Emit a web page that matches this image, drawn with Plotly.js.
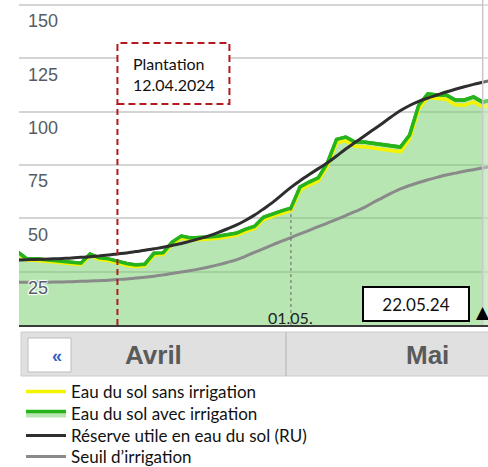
<!DOCTYPE html>
<html><head><meta charset="utf-8">
<script src="https://cdn.plot.ly/plotly-3.0.1.min.js"></script>
<style>html,body{margin:0;padding:0;background:#fff;}#chart{width:488px;height:467px;}</style>
</head><body><div id="chart"></div>
<script>
// ---- data (daily, starting 2024-04-01) ----
const startYear = 2024, startMonthIndex = 3, startDay = 1;
const greenWith = [34.5,31.2,31.0,30.6,30.3,30.0,29.6,29.0,33.3,31.5,
  31.0,29.8,28.8,28.1,28.5,33.6,33.8,38.9,41.7,40.8,
  40.8,41.2,41.6,42.2,43.0,44.8,46.2,50.5,52.2,53.5,
  54.8,64.7,67.0,69.0,76.0,87.0,88.1,85.8,85.8,85.3,
  84.4,84.0,83.4,89.0,103.0,108.3,107.8,107.8,105.5,105.5,
  106.9,104.5,105.5];
const yellowWithout = [33.8,30.5,30.3,29.9,29.6,29.3,28.9,28.3,32.6,30.8,
  30.2,29.0,28.0,27.3,27.7,32.8,33.0,38.0,40.8,39.9,
  39.9,40.3,40.7,41.2,42.0,43.8,45.2,49.4,51.1,52.4,
  53.6,63.3,65.6,67.6,74.6,85.4,86.4,83.8,83.6,83.0,
  82.2,81.8,81.2,87.2,101.3,106.6,106.0,105.8,103.2,103.0,
  104.6,102.2,103.2];
const ruCurve = [30.5,30.6,30.7,30.85,31.0,31.2,31.4,31.7,32.0,32.4,
  32.8,33.3,33.8,34.4,35.0,35.7,36.4,37.3,38.2,39.3,
  40.5,41.8,43.3,45.0,46.8,49.0,51.5,54.4,57.5,61.0,
  64.5,67.6,70.5,73.3,76.0,79.2,82.5,85.5,88.5,91.5,
  94.5,97.6,100.5,102.9,104.8,106.4,107.8,109.2,110.5,111.7,
  112.8,113.8,114.8];
const seuil = [20.0,20.0,20.0,20.05,20.1,20.2,20.3,20.45,20.6,20.8,
  21.0,21.3,21.6,22.0,22.4,22.9,23.5,24.1,24.8,25.5,
  26.3,27.2,28.2,29.3,30.5,32.2,34.0,35.8,37.6,39.3,
  41.0,42.7,44.4,46.1,47.8,49.5,51.3,53.1,55.0,57.4,
  59.6,61.8,63.8,65.4,66.8,68.1,69.2,70.3,71.2,72.1,
  72.8,73.6,74.3];
const yTickVals = [25,50,75,100,125,150];
const yTickText = ['25','50','75','100','125','150'];
const legendNames = ['Eau du sol sans irrigation','Eau du sol avec irrigation','Réserve utile en eau du sol (RU)','Seuil d’irrigation'];
const plantationDate = '2024-04-12';
const plantationText = 'Plantation<br>12.04.2024';
const markDate = '2024-05-01';
const markLabel = '01.05.';
const todayDate = '2024-05-22';
const todayLabel = '22.05.24';
const monthLabels = ['Avril','Mai'];
const monthCenters = ['2024-04-16','2024-05-16'];
const xRange = ['2024-04-01 05:15','2024-05-22 14:00'];
const yRange = [0,152.34];

function dayStr(i){const d=new Date(Date.UTC(startYear,startMonthIndex,startDay+i));return d.toISOString().slice(0,10);}
const dates = greenWith.map((_,i)=>dayStr(i));
const markIdx = dates.indexOf(markDate);

// pixel helpers for layout placement (plot area: x 19..488, y 0..325)
const PL=19, PW=469, PH=325;
const pxX = X => (X-PL)/PW;
const pxY = Y => (PH-Y)/PH;

const GREEN='#27b31b', YELLOW='#f4f400', BLACK='#2e2e2e', GRAY='#8a8a8a';
const legFont={family:'Lato, Carlito, sans-serif', size:17, color:'#111'};

const traces=[
 {x:dates,y:greenWith,type:'scatter',mode:'lines',name:legendNames[1],fill:'tozeroy',
  fillcolor:'rgba(111,205,101,0.5)',line:{color:GREEN,width:3.5},legend:'legend2',hoverinfo:'skip'},
 {x:dates,y:yellowWithout,type:'scatter',mode:'lines',name:legendNames[0],
  line:{color:YELLOW,width:3.5},legend:'legend',hoverinfo:'skip'},
 {x:dates,y:greenWith,type:'scatter',mode:'lines',showlegend:false,
  line:{color:GREEN,width:3.5},hoverinfo:'skip'},
 {x:dates,y:seuil,type:'scatter',mode:'lines',name:legendNames[3],
  line:{color:GRAY,width:3,shape:'spline'},legend:'legend4',hoverinfo:'skip'},
 {x:dates,y:ruCurve,type:'scatter',mode:'lines',name:legendNames[2],
  line:{color:BLACK,width:3,shape:'spline'},legend:'legend3',hoverinfo:'skip'}
];

function leg(Y){return {x:pxX(21),xanchor:'left',y:pxY(Y),yanchor:'middle',font:legFont,
  bgcolor:'rgba(0,0,0,0)',borderwidth:0,itemwidth:40,valign:'middle'};}

const red='#b3191e';
const layout={
 width:488,height:467,margin:{l:PL,r:0,t:0,b:467-PH,autoexpand:false},
 paper_bgcolor:'#fff',plot_bgcolor:'#fff',showlegend:true,
 xaxis:{type:'date',range:xRange,showgrid:false,showticklabels:false,ticks:'',
   showline:true,linecolor:'#3a3a3a',linewidth:2,zeroline:false,fixedrange:true},
 yaxis:{range:yRange,tickvals:yTickVals,ticktext:yTickText,showgrid:true,gridcolor:'#d4d4d4',gridwidth:2,
   zeroline:false,showline:false,ticks:'',ticklabelposition:'inside',ticklabelshift:16,ticklabelstandoff:6,
   tickfont:{family:'Liberation Sans, Arial, sans-serif',size:18,color:'#555c64',
     shadow:'1px 1px 1px #fff, -1px -1px 1px #fff, 1px -1px 1px #fff, -1px 1px 1px #fff'},fixedrange:true},
 legend:leg(392),legend2:leg(414),legend3:leg(436),legend4:leg(457),
 shapes:[
  {type:'rect',xref:'x',yref:'paper',x0:todayDate,x1:'2024-05-24',y0:0,y1:1,fillcolor:'rgba(255,255,255,0.3)',line:{width:0},layer:'above'},
  {type:'line',xref:'x',yref:'paper',x0:todayDate,x1:todayDate,y0:0,y1:1,line:{color:'#c8c8c8',width:1.5}},
  {type:'line',xref:'x',yref:'y',x0:markDate,x1:markDate,y0:0,y1:greenWith[markIdx],line:{color:'#666',width:1,dash:'dot'},layer:'above'},
  {type:'line',xref:'x',yref:'paper',x0:plantationDate,x1:plantationDate,y0:0,y1:pxY(104),line:{color:red,width:2,dash:'6px,4px'},layer:'above'},
  {type:'rect',xref:'x',xsizemode:'pixel',xanchor:plantationDate,x0:0,x1:112,yref:'paper',y0:pxY(104),y1:pxY(43),
    fillcolor:'#fff',line:{color:red,width:2,dash:'7px,4px'},layer:'above'},
  {type:'rect',xref:'paper',yref:'paper',x0:pxX(21),x1:1.05,y0:pxY(376),y1:pxY(332),fillcolor:'#e0e0e0',line:{color:'#cccccc',width:1}},
  {type:'line',xref:'paper',yref:'paper',x0:pxX(286),x1:pxX(286),y0:pxY(376),y1:pxY(332),line:{color:'#c2c2c2',width:1.5}},
  {type:'rect',xref:'paper',yref:'paper',x0:pxX(28),x1:pxX(71),y0:pxY(372),y1:pxY(338),fillcolor:'#fff',line:{color:'#bdbdbd',width:1}}
 ],
 annotations:[
  {xref:'x',yref:'paper',x:plantationDate,xshift:14,xanchor:'left',y:pxY(74),yanchor:'middle',text:plantationText,
   showarrow:false,align:'left',font:{family:'Lato, sans-serif',size:16,color:'#111'}},
  {xref:'x',yref:'paper',x:markDate,y:pxY(317.5),yanchor:'middle',text:markLabel,showarrow:false,
   font:{family:'Lato, sans-serif',size:16,color:'#222'}},
  {xref:'paper',yref:'paper',x:pxX(416),y:pxY(304),xanchor:'center',yanchor:'middle',text:todayLabel,showarrow:false,
   font:{family:'Lato, sans-serif',size:17,color:'#111'},bgcolor:'#fff',bordercolor:'#000',borderwidth:2,borderpad:0,width:104,height:32},
  {xref:'x',yref:'paper',x:todayDate,y:pxY(312),yanchor:'middle',text:'▲',showarrow:false,
   font:{family:'DejaVu Sans',size:17,color:'#000'}},
  {xref:'paper',yref:'paper',x:pxX(50),y:pxY(356),yanchor:'middle',text:'<b>«</b>',showarrow:false,
   font:{family:'Liberation Sans, Arial',size:18,color:'#3561c4'}},
  {xref:'x',yref:'paper',x:monthCenters[0],y:pxY(355),yanchor:'middle',text:'<b>'+monthLabels[0]+'</b>',showarrow:false,
   font:{family:'Liberation Sans, Arial',size:26,color:'#5a5a5a'}},
  {xref:'x',yref:'paper',x:monthCenters[1],y:pxY(355),yanchor:'middle',text:'<b>'+monthLabels[1]+'</b>',showarrow:false,
   font:{family:'Liberation Sans, Arial',size:26,color:'#5a5a5a'}}
 ]
};
Plotly.newPlot('chart',traces,layout,{staticPlot:true,displayModeBar:false});
</script></body></html>
